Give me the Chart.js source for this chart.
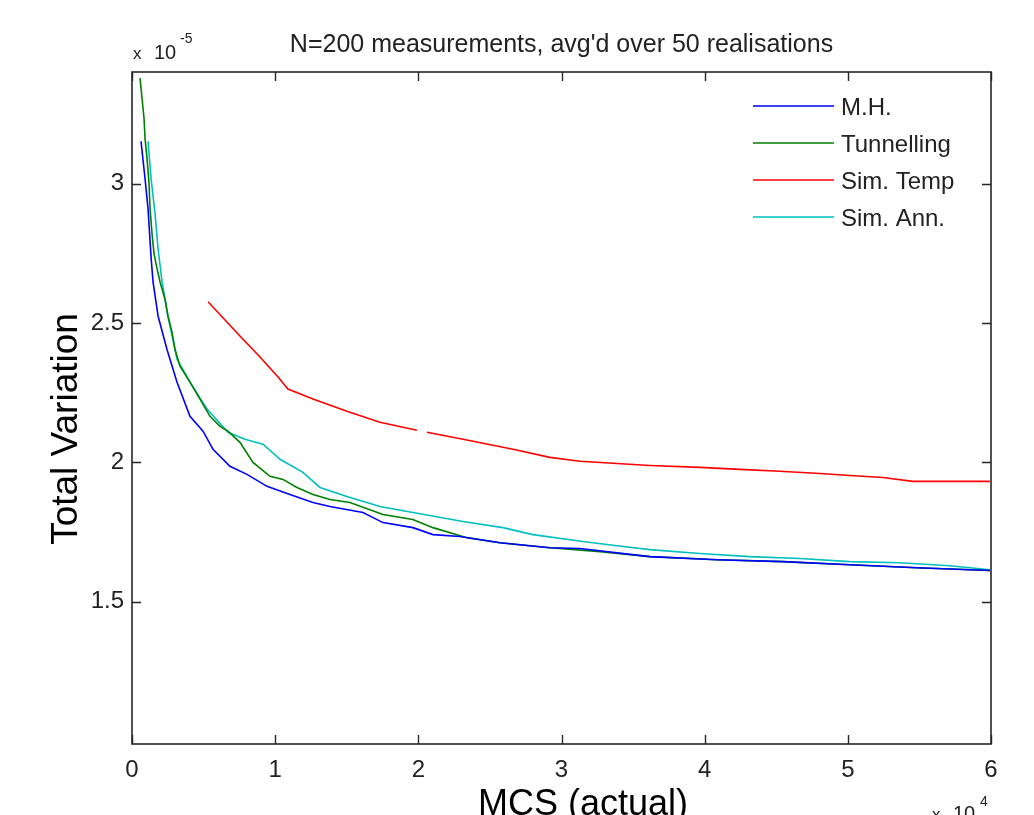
<!DOCTYPE html>
<html>
<head>
<meta charset="utf-8">
<script src="https://cdn.jsdelivr.net/npm/chart.js@4/dist/chart.umd.min.js"></script>
<style>
  html, body { margin: 0; padding: 0; background: #ffffff; }
  #wrap { width: 1034px; height: 815px; position: relative; }
</style>
</head>
<body>
<div id="wrap"><canvas id="c" width="1034" height="815"></canvas></div>
<script>
// ---- Data (y in units of 1e-5, x in MCS) ----
const titleText = "N=200 measurements, avg'd over 50 realisations";
const xAxisLabel = "MCS (actual)";
const yAxisLabel = "Total Variation";
const seriesNames = ["M.H.", "Tunnelling", "Sim. Temp", "Sim. Ann."];

const xTicks = [0, 10000, 20000, 30000, 40000, 50000, 60000];
const xTickLabels = ["0", "1", "2", "3", "4", "5", "6"];
const yTicks = [1.5, 2, 2.5, 3];
const yTickLabels = ["1.5", "2", "2.5", "3"];

const mhX = [630, 910, 1120, 1330, 1470, 1820, 2440, 3140, 4050, 4960, 5660, 6840, 8030, 9430, 11030, 12640, 13830, 16130, 17530, 19620, 21020, 22900, 25700, 29190, 31290, 36170, 40850, 45460, 50140, 54820, 59920];
const mhY = [3.151, 3.018, 2.910, 2.737, 2.647, 2.525, 2.406, 2.288, 2.165, 2.112, 2.047, 1.986, 1.957, 1.914, 1.885, 1.856, 1.842, 1.820, 1.784, 1.766, 1.741, 1.734, 1.712, 1.694, 1.691, 1.662, 1.651, 1.644, 1.633, 1.622, 1.612];

const tunX = [560, 700, 840, 910, 1050, 1190, 1260, 1400, 1540, 1750, 1960, 2300, 2510, 2790, 3000, 3350, 4050, 4750, 5450, 6150, 6700, 7540, 8450, 9640, 10550, 11520, 12640, 13830, 15220, 17530, 19620, 21020, 23390, 25700, 29190, 32680, 36170, 40850, 45460, 50140, 54820, 59920];
const tunY = [3.378, 3.306, 3.234, 3.162, 3.090, 3.000, 2.910, 2.820, 2.748, 2.694, 2.647, 2.586, 2.525, 2.468, 2.406, 2.345, 2.288, 2.227, 2.165, 2.129, 2.112, 2.072, 2.000, 1.950, 1.939, 1.910, 1.885, 1.867, 1.856, 1.813, 1.795, 1.766, 1.730, 1.712, 1.694, 1.680, 1.662, 1.651, 1.644, 1.633, 1.622, 1.612];

const stX = [5310, 7540, 8940, 10200, 10890, 12640, 15010, 17320, 19900, 20300, 20600, 23120, 26610, 29190, 31290, 33870, 36170, 39670, 42460, 45250, 48050, 50140, 52440, 54540, 59920];
const stY = [2.576, 2.453, 2.378, 2.306, 2.263, 2.227, 2.183, 2.144, 2.115, null, 2.108, 2.083, 2.047, 2.018, 2.004, 1.996, 1.989, 1.982, 1.975, 1.968, 1.960, 1.953, 1.946, 1.932, 1.932];

const saX = [1120, 1330, 1610, 1820, 2100, 2510, 3140, 4050, 5240, 6700, 7890, 9150, 10340, 11940, 13130, 15010, 17320, 19620, 23120, 25910, 28000, 31490, 33870, 36170, 39670, 43160, 46650, 50140, 53630, 57120, 59920];
const saY = [3.151, 3.018, 2.892, 2.766, 2.647, 2.525, 2.371, 2.288, 2.191, 2.108, 2.083, 2.065, 2.011, 1.964, 1.910, 1.878, 1.842, 1.820, 1.788, 1.766, 1.741, 1.716, 1.701, 1.687, 1.673, 1.662, 1.655, 1.644, 1.640, 1.629, 1.615];

const seriesColors = ["#0000ff", "#008000", "#ff0000", "#00bfbf"];

function pts(xs, ys) { return xs.map((x, i) => ({ x: x, y: ys[i] })); }

const AXIS_COLOR = "#262626";
const TEXT_COLOR = "#222222";
const FONT_FAMILY = "'Liberation Sans', Arial, sans-serif";

const decorPlugin = {
  id: 'decor',
  afterDatasetsDraw(chart) {
    const ctx = chart.ctx;
    const a = chart.chartArea;
    const xs = chart.scales.x, ys = chart.scales.y;
    ctx.save();
    // box
    ctx.strokeStyle = AXIS_COLOR;
    ctx.lineWidth = 1.6;
    ctx.strokeRect(a.left, a.top, a.right - a.left, a.bottom - a.top);
    // inward ticks
    ctx.lineWidth = 1.4;
    const tl = 9;
    ctx.beginPath();
    xTicks.forEach(v => {
      const px = Math.round(xs.getPixelForValue(v)) + 0.5;
      ctx.moveTo(px, a.bottom); ctx.lineTo(px, a.bottom - tl);
      ctx.moveTo(px, a.top); ctx.lineTo(px, a.top + tl);
    });
    yTicks.forEach(v => {
      const py = Math.round(ys.getPixelForValue(v)) + 0.5;
      ctx.moveTo(a.left, py); ctx.lineTo(a.left + tl, py);
      ctx.moveTo(a.right, py); ctx.lineTo(a.right - tl, py);
    });
    ctx.stroke();

    // title
    ctx.fillStyle = TEXT_COLOR;
    ctx.font = "25px " + FONT_FAMILY;
    ctx.textAlign = 'center';
    ctx.textBaseline = 'alphabetic';
    ctx.fillText(titleText, (a.left + a.right) / 2, 52);

    // exponent labels
    ctx.textAlign = 'left';
    ctx.font = "17px " + FONT_FAMILY;
    ctx.fillText("x", 133, 59);
    ctx.font = "20px " + FONT_FAMILY;
    ctx.fillText("10", 154, 59);
    ctx.font = "14px " + FONT_FAMILY;
    ctx.fillText("-5", 180, 43);

    ctx.font = "17px " + FONT_FAMILY;
    ctx.fillText("x", 932, 820);
    ctx.font = "20px " + FONT_FAMILY;
    ctx.fillText("10", 953, 820);
    ctx.font = "14px " + FONT_FAMILY;
    ctx.fillText("4", 980, 806);

    // axis labels
    ctx.fillStyle = "#000000";
    ctx.font = "36px " + FONT_FAMILY;
    ctx.textAlign = 'center';
    ctx.fillText(xAxisLabel, 583, 815);
    ctx.save();
    ctx.translate(77, 429);
    ctx.rotate(-Math.PI / 2);
    ctx.font = "37px " + FONT_FAMILY;
    ctx.fillText(yAxisLabel, 0, 0);
    ctx.restore();

    // legend
    ctx.font = "24px " + FONT_FAMILY;
    ctx.textAlign = 'left';
    ctx.textBaseline = 'middle';
    const rowY = [106, 143, 180, 217];
    chart.data.datasets.forEach((ds, i) => {
      ctx.strokeStyle = ds.borderColor;
      ctx.lineWidth = 1.6;
      ctx.beginPath();
      ctx.moveTo(753, rowY[i]); ctx.lineTo(834, rowY[i]);
      ctx.stroke();
      ctx.fillStyle = TEXT_COLOR;
      ctx.fillText(ds.label, 841, rowY[i] + 2);
    });
    ctx.restore();
  }
};

const datasets = [
  { label: seriesNames[0], data: pts(mhX, mhY), borderColor: seriesColors[0] },
  { label: seriesNames[1], data: pts(tunX, tunY), borderColor: seriesColors[1] },
  { label: seriesNames[2], data: pts(stX, stY), borderColor: seriesColors[2] },
  { label: seriesNames[3], data: pts(saX, saY), borderColor: seriesColors[3] }
].map(d => Object.assign(d, {
  backgroundColor: d.borderColor,
  borderWidth: 1.6,
  pointRadius: 0,
  tension: 0,
  fill: false,
  spanGaps: false
}));

new Chart(document.getElementById('c'), {
  type: 'line',
  data: { datasets: datasets },
  options: {
    responsive: false,
    animation: false,
    devicePixelRatio: 1,
    layout: { padding: { top: 72, right: 43, left: 0, bottom: 0 } },
    plugins: { legend: { display: false }, title: { display: false }, tooltip: { enabled: false } },
    scales: {
      x: {
        type: 'linear',
        min: 0, max: 60000,
        grid: { display: false, drawTicks: false },
        border: { display: false },
        afterBuildTicks: s => { s.ticks = xTicks.map(v => ({ value: v })); },
        afterFit: s => { s.height = 71; },
        ticks: {
          padding: 12,
          color: TEXT_COLOR,
          font: { family: FONT_FAMILY, size: 24 },
          maxRotation: 0,
          autoSkip: false,
          callback: (v) => { const i = xTicks.indexOf(v); return i >= 0 ? xTickLabels[i] : ''; }
        }
      },
      y: {
        type: 'linear',
        min: 0.99, max: 3.4,
        grid: { display: false, drawTicks: false },
        border: { display: false },
        afterBuildTicks: s => { s.ticks = yTicks.map(v => ({ value: v })); },
        afterFit: s => { s.width = 132; },
        ticks: {
          padding: 8,
          color: TEXT_COLOR,
          font: { family: FONT_FAMILY, size: 24 },
          autoSkip: false,
          callback: (v) => { const i = yTicks.indexOf(v); return i >= 0 ? yTickLabels[i] : ''; }
        }
      }
    }
  },
  plugins: [decorPlugin]
});
</script>
</body>
</html>
